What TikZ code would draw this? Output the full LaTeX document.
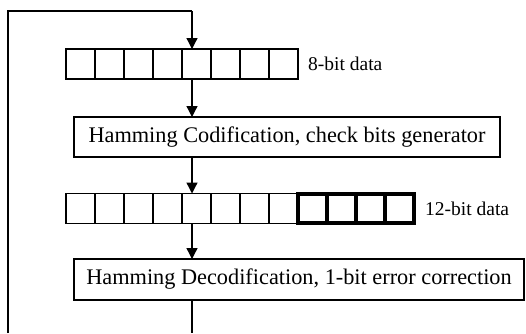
\documentclass[tikz,border=0pt]{standalone}
\usepackage{fontspec}
\setmainfont{Liberation Serif}
\usetikzlibrary{arrows.meta,positioning,calc}

\tikzset{
  cell/.style={draw, line width=1.3pt, minimum width=29pt, minimum height=30pt, inner sep=0pt, outer sep=0pt},
  checkcell/.style={cell, line width=4.5pt, minimum height=29pt},
  procbox/.style={draw, line width=1.4pt, inner sep=0pt, outer sep=0pt, font=\fontsize{22.3}{25}\selectfont},
  lbl/.style={anchor=west, inner sep=0pt, font=\fontsize{19.5}{22}\selectfont},
  flow/.style={line width=1.3pt, -{Triangle[width=11pt,length=11pt]}},
  wire/.style={line width=1.3pt}
}

\begin{document}
\begin{tikzpicture}[x=1pt, y=-1pt]
\useasboundingbox (0,0) rectangle (526,333);

% 8-bit input register
\foreach \i in {1,...,8}
  \node[cell] (a\i) at ({66+29*(\i-0.5)},64) {};
\node[lbl, right=10pt of a8] (lbla) {8-bit data};

% encoder
\node[procbox, minimum width=426pt, minimum height=40pt] (coder) at (287,137)
    {Hamming Codification, check bits generator};

% 12-bit coded register, check bits in bold
\foreach \i in {1,...,8}
  \node[cell] (b\i) at ({66+29*(\i-0.5)},208.5) {};
\foreach \i in {9,...,12}
  \node[checkcell] (b\i) at ({66+29*(\i-0.5)},208.5) {};
\node[lbl, right=11pt of b12] (lblb) {12-bit data};

% decoder
\node[procbox, minimum width=450pt, minimum height=41pt] (decoder) at (299,279.5)
    {Hamming Decodification, 1-bit error correction};

% feedback loop, open at the bottom
\coordinate (top) at (192,11);
\coordinate (loop) at (8,11);
\coordinate (bot) at (192,333);
\coordinate (botloop) at (8,333);

\draw[wire] (botloop) -- (loop) -- (top);
\draw[flow] (top) -- (top |- a5.north);
\draw[flow] (top |- a5.south) -- (top |- coder.north);
\draw[flow] (top |- coder.south) -- (top |- b5.north);
\draw[flow] (top |- b5.south) -- (top |- decoder.north);
\draw[wire] (top |- decoder.south) -- (bot);
\end{tikzpicture}
\end{document}
